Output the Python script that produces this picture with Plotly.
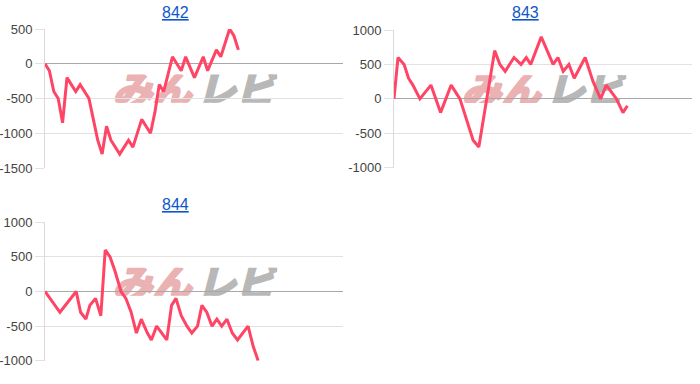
import base64
import plotly.graph_objects as go

# ---- data (x = position along the run, y = value) ----
x_842 = [0, 1, 2, 3, 4, 5, 6, 7, 8, 9, 10, 11, 12, 13, 14, 15, 16, 17, 18, 19, 20, 21, 22, 23, 24,
         25, 26, 27, 29, 31, 32, 34, 36, 37, 39, 40, 42, 43, 44]
y_842 = [0, -100, -400, -500, -850, -200, -300, -400, -300, -400, -500, -800, -1100, -1300, -900,
         -1100, -1200, -1300, -1200, -1100, -1200, -1000, -800, -900, -1000, -700, -300, -400,
         100, -100, 100, -200, 100, -100, 200, 100, 500, 400, 200]

x_843 = [0, 0.9, 2.3, 3.3, 4.3, 5.9, 8.4, 10.6, 13.0, 15.0, 18.0, 19.3, 22.9, 24.1, 25.3, 27.3,
         28.9, 30.1, 31.1, 33.5, 36.2, 37.3, 38.5, 39.8, 41.0, 43.5, 45.3, 47.0, 48.3, 50.6, 52.1, 53.1]
y_843 = [0, 600, 500, 300, 200, 0, 200, -200, 200, 0, -600, -700, 700, 500, 400, 600,
         500, 600, 500, 900, 500, 600, 400, 500, 300, 600, 250, 0, 200, 0, -200, -100]

x_844 = [0, 3.4, 7.1, 8.1, 9.3, 10.2, 11.5, 12.7, 13.7, 14.8, 15.9, 17.3, 18.4, 19.6, 20.8, 21.9,
         23.3, 24.2, 25.4, 27.7, 28.8, 29.8, 31.0, 32.3, 33.4, 34.7, 35.7, 36.8, 38.0, 39.1, 40.2,
         41.4, 42.6, 43.8, 46.2, 47.4, 48.5]
y_844 = [0, -300, 0, -300, -400, -200, -100, -350, 600, 500, 300, 0, -100, -300, -600, -400,
         -600, -700, -500, -700, -200, -100, -350, -500, -600, -500, -200, -300, -500, -400, -500,
         -400, -600, -700, -500, -800, -1000]

titles = ["842", "843", "844"]
ticks_842 = [-1500, -1000, -500, 0, 500]
ticks_843 = [-1000, -500, 0, 500, 1000]
ticks_844 = [-1000, -500, 0, 500, 1000]
x_span = 67.8

LINE = "#ff4566"
FONT = "Arial, Liberation Sans, sans-serif"

series = [(x_842, y_842), (x_843, y_843), (x_844, y_844)]
tick_sets = [ticks_842, ticks_843, ticks_844]
xdomains = [[45 / 700, 343 / 700], [394 / 700, 692 / 700], [45 / 700, 343 / 700]]
ydomains = [[1 - 168 / 384, 1 - 29 / 384], [1 - 167.7 / 384, 1 - 30 / 384],
            [1 - 360.7 / 384, 1 - 222.3 / 384]]
title_pos = [(175 / 700, 1 - 12 / 384), (525 / 700, 1 - 12 / 384), (175 / 700, 1 - 204 / 384)]

# watermark (logo-like) as an inline SVG image
svg = (
    '<svg xmlns="http://www.w3.org/2000/svg" width="166" height="28" viewBox="0 0 166 28">'
    '<g font-family="Noto Sans CJK JP" font-weight="bold" font-style="italic" font-size="38" '
    'stroke-linejoin="round">'
    '<text x="1" y="29" fill="#eab2b2" stroke="#eab2b2" stroke-width="2.6" '
    'textLength="79" lengthAdjust="spacingAndGlyphs">みん</text>'
    '<text x="85" y="29" fill="#b8b8b8" stroke="#b8b8b8" stroke-width="2.6" '
    'textLength="79" lengthAdjust="spacingAndGlyphs">レビ</text>'
    '</g></svg>'
)
wm_src = "data:image/svg+xml;base64," + base64.b64encode(svg.encode("utf-8")).decode("ascii")

fig = go.Figure()
layout = dict(
    width=700, height=384, autosize=False,
    margin=dict(l=0, r=0, t=0, b=0, pad=0),
    paper_bgcolor="white", plot_bgcolor="white",
    showlegend=False,
    font=dict(family=FONT, size=13, color="#444"),
)
annotations = []
images = []
for i, ((xs, ys), tks) in enumerate(zip(series, tick_sets)):
    n = "" if i == 0 else str(i + 1)
    xa, ya = "x" + n, "y" + n
    fig.add_trace(go.Scatter(x=xs, y=ys, mode="lines", xaxis=xa, yaxis=ya,
                             line=dict(color=LINE, width=3), hoverinfo="skip"))
    layout["xaxis" + n] = dict(domain=xdomains[i], range=[0, x_span], anchor=ya,
                               showgrid=False, zeroline=False, showline=False,
                               showticklabels=False, ticks="", fixedrange=True,
                               automargin=False)
    layout["yaxis" + n] = dict(domain=ydomains[i], range=[tks[0], tks[-1]], anchor=xa,
                               tickvals=tks, ticktext=[str(t) for t in tks],
                               showgrid=True, gridcolor="#e2e2e2", gridwidth=1,
                               zeroline=True, zerolinecolor="#a8a8a8", zerolinewidth=1,
                               showline=True, linecolor="#dadada", linewidth=1,
                               ticks="outside", ticklen=9, tickcolor="#e2e2e2",
                               tickfont=dict(family=FONT, size=13, color="#444"),
                               fixedrange=True, automargin=False)
    tx, ty = title_pos[i]
    annotations.append(dict(text="<u>" + titles[i] + "</u>", xref="paper", yref="paper",
                            x=tx, y=ty, xanchor="center", yanchor="middle", showarrow=False,
                            font=dict(family=FONT, size=16, color="#1155cc")))
    images.append(dict(source=wm_src, xref=xa + " domain", yref=ya + " domain",
                       x=0.224, y=0.672, sizex=0.555, sizey=0.202,
                       xanchor="left", yanchor="top", sizing="stretch", layer="below"))

layout["annotations"] = annotations
layout["images"] = images
fig.update_layout(**layout)
fig.write_html("out.html")
